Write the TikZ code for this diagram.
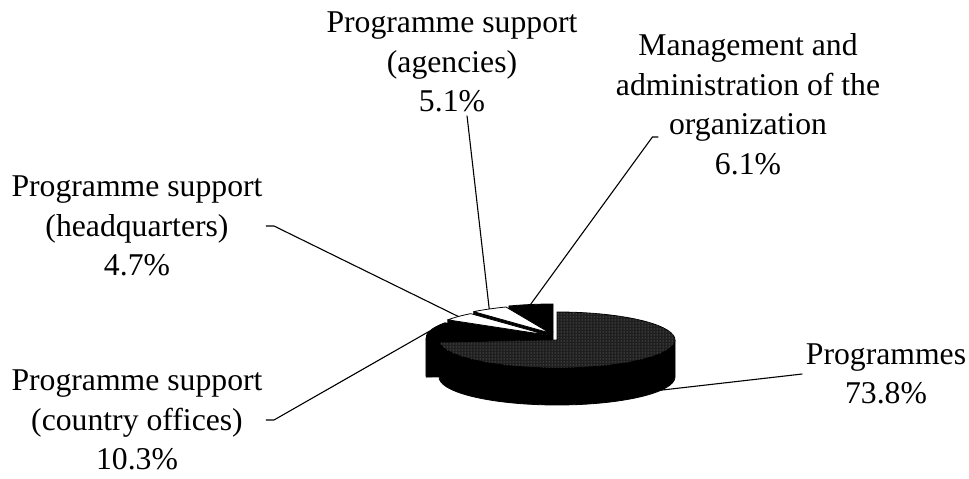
\documentclass[tikz,border=0pt]{standalone}
\usepackage{fontspec}
\setmainfont{Liberation Serif}
\usetikzlibrary{calc,positioning,patterns}

\def\rx{118}
\def\ry{28}
\def\hh{37}

% top face of a slice: centre x, centre y, start, end, fill
\newcommand{\slicetop}[5]{%
  \filldraw[face,fill=#5] (#1,#2) -- ++(#3:\rx pt and \ry pt)
    arc[start angle=#3, end angle=#4, x radius=\rx pt, y radius=\ry pt] -- cycle;}
% radial cut face of a slice
\newcommand{\slicecut}[3]{%
  \filldraw[face,fill=black] (#1,#2) -- ++(#3:\rx pt and \ry pt) -- ++(0,-\hh) -- (#1,#2-\hh) -- cycle;}
% outer wall of a slice
\newcommand{\slicewall}[4]{%
  \filldraw[face,fill=black] ($(#1,#2)+(#3:\rx pt and \ry pt)$)
    arc[start angle=#3, end angle=#4, x radius=\rx pt, y radius=\ry pt] -- ++(0,-\hh)
    arc[start angle=#4, end angle=#3, x radius=\rx pt, y radius=\ry pt] -- cycle;}

\begin{document}
\begin{tikzpicture}[x=1pt,y=1pt,
  lbl/.style={align=center,font=\fontsize{31.7}{39.5}\selectfont},
  leader/.style={draw=black,line width=1.1pt},
  face/.style={draw=black,line width=0.8pt,line join=round}]
\useasboundingbox (0,0) rectangle (969,479);

% pie, back slices first
\slicecut{553}{147}{111.9}
\slicetop{553}{147}{90}{111.9}{black}
\slicecut{550}{146}{130.3}
\slicetop{550}{146}{111.9}{130.3}{white}
\slicecut{547}{144}{147.2}
\slicetop{547}{144}{130.3}{147.2}{white}
\slicecut{544}{141}{184.3}
\slicewall{544}{141}{180}{184.3}
\slicetop{544}{141}{147.2}{184.3}{black}
\slicewall{557}{139}{184.3}{360}
\slicetop{557}{139}{-175.7}{90}{black!88}
\fill[pattern=dots,pattern color=black!45] (557,139) -- ++(-175.7:\rx pt and \ry pt)
  arc[start angle=-175.7, end angle=90, x radius=\rx pt, y radius=\ry pt] -- cycle;

% leader ends on the pie
\coordinate (pm) at ($(553,147)+(101:\rx pt and \ry pt)$);
\coordinate (pa) at ($(550,146)+(121:\rx pt and \ry pt)$);
\coordinate (ph) at ($(547,144)+(138.7:\rx pt and \ry pt)$);
\coordinate (pc) at ($(544,141)+(165.7:\rx pt and \ry pt)$);
\coordinate (pp) at (645,87);

% labels
\node[lbl] (ag) at (452,417) {Programme support\\(agencies)\\5.1\%};
\node[lbl] (mg) at (748,375) {Management and\\administration of the\\organization\\6.1\%};
\node[lbl] (hq) at (137,253) {Programme support\\(headquarters)\\4.7\%};
\node[lbl] (co) at (137,59) {Programme support\\(country offices)\\10.3\%};
\node[lbl] (pr) at (886,105) {Programmes\\73.8\%};

\draw[leader] ([xshift=15pt]ag.south) -- (pa);
\draw[leader] (pm) -- ([shift={(40,-33)}]mg.west) -- ++(6,0);
\draw[leader] (hq.east) -- ++(8,0) -- (ph);
\draw[leader] (co.east) -- ++(8,0) -- (pc);
\draw[leader] (pr.west) -- (pp);
\end{tikzpicture}
\end{document}
